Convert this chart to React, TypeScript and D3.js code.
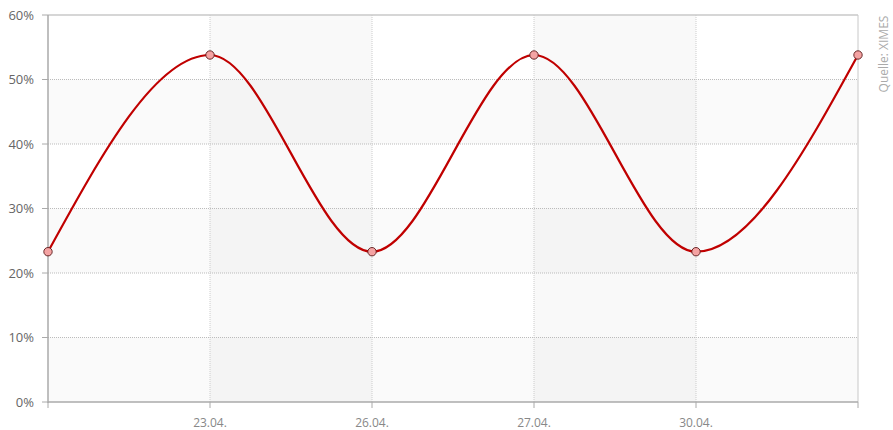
import React from 'react';
import * as d3 from 'd3';

// Daten
const categories = ['21.04.', '23.04.', '26.04.', '27.04.', '30.04.', '02.05.'];
const tickLabels = ['', '23.04.', '26.04.', '27.04.', '30.04.', ''];
const values = [23.3, 53.8, 23.3, 53.8, 23.3, 53.8];
const yTicks = [0, 10, 20, 30, 40, 50, 60];

const width = 893;
const height = 430;
const margin = { top: 15, right: 35, bottom: 28, left: 48 };

export default function App() {
  const x = d3.scalePoint<string>()
    .domain(categories)
    .range([margin.left, width - margin.right]);
  const y = d3.scaleLinear()
    .domain([0, 60])
    .range([height - margin.bottom, margin.top]);

  const line = d3.line<number>()
    .x((_, i) => x(categories[i]) as number)
    .y(d => y(d))
    .curve(d3.curveMonotoneX);

  const left = margin.left;
  const right = width - margin.right;
  const top = margin.top;
  const bottom = height - margin.bottom;

  // horizontale Bänder (jedes zweite)
  const hBands = yTicks.slice(0, -1).filter((_, i) => i % 2 === 0);
  // vertikale Bänder (jedes zweite Intervall)
  const vBands = categories.slice(0, -1).filter((_, i) => i % 2 === 1);

  return (
    <svg width={width} height={height}
      style={{ position: 'absolute', left: 0, top: 0, fontFamily: '"Open Sans", sans-serif' }}>
      <rect x={left} y={top} width={right - left} height={bottom - top} fill="#fff" />
      {hBands.map(t => (
        <rect key={'h' + t} x={left} y={y(t + 10)} width={right - left}
          height={y(t) - y(t + 10)} fill="#000" fillOpacity={0.02} />
      ))}
      {vBands.map(c => {
        const i = categories.indexOf(c);
        const x0 = x(c) as number;
        const x1 = x(categories[i + 1]) as number;
        return <rect key={'v' + c} x={x0} y={top} width={x1 - x0}
          height={bottom - top} fill="#000" fillOpacity={0.022} />;
      })}
      {yTicks.filter(t => t > 0 && t < 60).map(t => (
        <line key={'gy' + t} x1={left} x2={right} y1={y(t)} y2={y(t)}
          stroke="#bbb" strokeWidth={1} strokeDasharray="1,1" />
      ))}
      {categories.slice(1, -1).map(c => (
        <line key={'gx' + c} x1={x(c)} x2={x(c)} y1={top} y2={bottom}
          stroke="#ccc" strokeWidth={1} strokeDasharray="1,1" />
      ))}
      {/* Rahmen */}
      <line x1={left} x2={right} y1={top} y2={top} stroke="#c8c8c8" strokeWidth={1.5} />
      <line x1={right} x2={right} y1={top} y2={bottom} stroke="#c8c8c8" strokeWidth={1} />
      <line x1={left} x2={left} y1={top} y2={bottom + 1} stroke="#aaa" strokeWidth={1.5} />
      <line x1={left} x2={right} y1={bottom} y2={bottom} stroke="#aaa" strokeWidth={1.5} />
      {yTicks.map(t => (
        <g key={'ty' + t}>
          <line x1={left - 6} x2={left} y1={y(t)} y2={y(t)} stroke="#aaa" strokeWidth={1} />
          <text x={left - 14} y={y(t)} dy="0.35em" textAnchor="end" fontSize={13} fill="#666">{t}%</text>
        </g>
      ))}
      {categories.map((c, i) => (
        <g key={'tx' + c}>
          <line x1={x(c)} x2={x(c)} y1={bottom} y2={bottom + 6} stroke="#aaa" strokeWidth={1} />
          <text x={x(c)} y={bottom + 25} textAnchor="middle" fontSize={12} fill="#888">{tickLabels[i]}</text>
        </g>
      ))}
      <path d={line(values) || ''} fill="none" stroke="#c00000" strokeWidth={2.2} />
      {values.map((v, i) => (
        <circle key={'p' + i} cx={x(categories[i])} cy={y(v)} r={4.2}
          fill="#f4a3a3" stroke="#5a1a1a" strokeWidth={0.9} />
      ))}
      <text transform={`translate(${width - 5},${54}) rotate(-90)`} textAnchor="middle"
        fontSize={12} fill="#aaa">Quelle: XIMES</text>
    </svg>
  );
}
